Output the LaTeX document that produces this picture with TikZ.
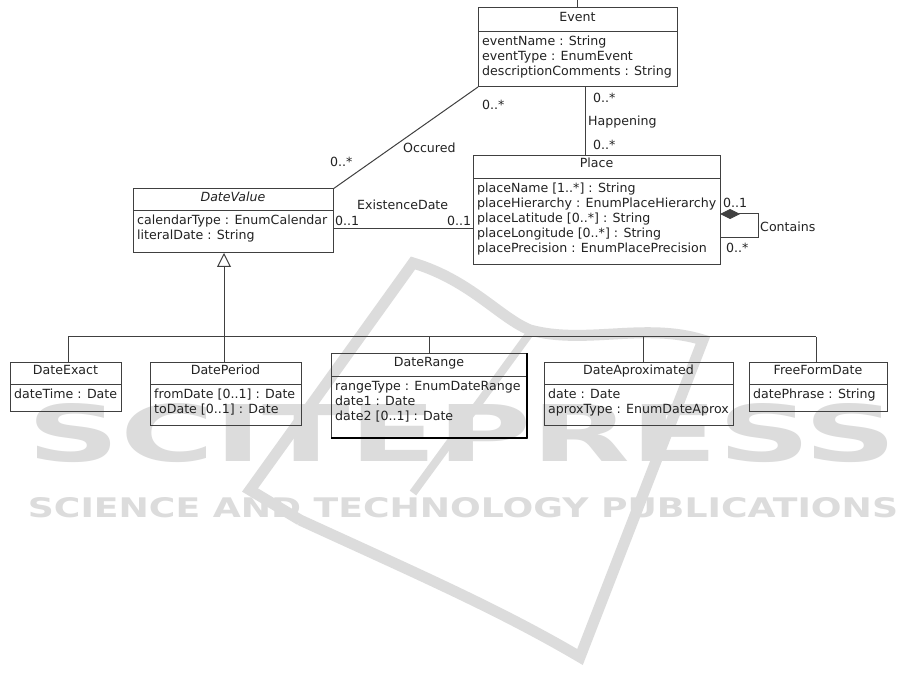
\documentclass[tikz,border=0pt]{standalone}
\usepackage{fontspec}
\setmainfont{DejaVu Sans}
\usepackage{graphicx}
\usetikzlibrary{arrows.meta}
\definecolor{ln}{HTML}{404040}
\definecolor{tx}{HTML}{222222}
\definecolor{wm}{HTML}{DCDCDC}
\tikzset{
  cls/.style={draw=ln, line width=1pt, anchor=north west, inner sep=0pt, outer sep=0pt},
  txt/.style={anchor=base west, inner sep=0pt, text=tx, font=\fontsize{12.6}{15}\selectfont},
  hdr/.style={anchor=base, inner sep=0pt, text=tx, font=\fontsize{12.6}{15}\selectfont},
  conn/.style={draw=ln, line width=1pt},
  wmtext/.style={anchor=base, inner sep=0pt, text=wm},
  wmk/.style={draw=wm, line cap=butt, line join=miter}
}
\newcommand\clsep[2]{\draw[conn] ([yshift=-#2pt]#1.north west) -- ([yshift=-#2pt]#1.north east);}
\begin{document}
\begin{tikzpicture}[x=1pt,y=-1pt]
\fill[white] (0,0) rectangle (915,692);
\useasboundingbox (0,0) rectangle (915,692);

% ---------- watermark ----------
\node[wmtext] (wmbig) at (462.5,461) {\resizebox{869pt}{58pt}{\bfseries SCITEPRESS}};
\node[wmtext] (wmsmall) at (463,517) {\resizebox{870pt}{20pt}{\bfseries SCIENCE AND TECHNOLOGY PUBLICATIONS}};
\draw[wmk, line width=11pt] (300,520) -- (250,490) -- (413,263)
   .. controls (470,280) and (500,318) .. (530,330)
   .. controls (585,345) and (645,322) .. (703,340) -- (580,657)
   .. controls (500,610) and (420,575) .. (300,520);
\draw[wmk, line width=8pt] (530,333) -- (413,493);

% ---------- Event ----------
\node[cls, minimum width=199pt, minimum height=79pt] (event) at (478,8) {};
\clsep{event}{24}
\node[hdr] (event-h) at (577.5,22) {Event};
\node[txt] (event-a1) at (482,46) {eventName : String};
\node[txt] (event-a2) at (482,61) {eventType : EnumEvent};
\node[txt] (event-a3) at (482,76) {descriptionComments : String};

% ---------- Place ----------
\node[cls, minimum width=247pt, minimum height=109pt] (place) at (473,156) {};
\clsep{place}{23}
\node[hdr] (place-h) at (596.5,168) {Place};
\node[txt] (place-a1) at (477,193) {placeName [1..*] : String};
\node[txt] (place-a2) at (477,208) {placeHierarchy : EnumPlaceHierarchy};
\node[txt] (place-a3) at (477,223) {placeLatitude [0..*] : String};
\node[txt] (place-a4) at (477,238) {placeLongitude [0..*] : String};
\node[txt] (place-a5) at (477,253) {placePrecision : EnumPlacePrecision};

% ---------- DateValue ----------
\node[cls, minimum width=200pt, minimum height=64pt] (datevalue) at (133,189) {};
\clsep{datevalue}{22}
\node[hdr, font=\fontsize{12.6}{15}\selectfont\itshape] (datevalue-h) at (233,202) {DateValue};
\node[txt] (datevalue-a1) at (137,225) {calendarType : EnumCalendar};
\node[txt] (datevalue-a2) at (137,240) {literalDate : String};

% ---------- subclasses ----------
\node[cls, minimum width=111pt, minimum height=49pt] (dateexact) at (10,362) {};
\clsep{dateexact}{22}
\node[hdr] (dateexact-h) at (65.5,374) {DateExact};
\node[txt] (dateexact-a1) at (14,398) {dateTime : Date};

\node[cls, minimum width=151pt, minimum height=63pt] (dateperiod) at (150,362) {};
\clsep{dateperiod}{22}
\node[hdr] (dateperiod-h) at (225.5,374) {DatePeriod};
\node[txt] (dateperiod-a1) at (154,398) {fromDate [0..1] : Date};
\node[txt] (dateperiod-a2) at (154,413) {toDate [0..1] : Date};

\node[cls, minimum width=196pt, minimum height=85pt] (daterange) at (331,353) {};
\clsep{daterange}{23}
\draw[black, line width=1.6pt] (daterange.north east) -- (daterange.south east);
\draw[black, line width=2.4pt] (daterange.south east) -- (daterange.south west);
\node[hdr] (daterange-h) at (429,366) {DateRange};
\node[txt] (daterange-a1) at (335,390) {rangeType : EnumDateRange};
\node[txt] (daterange-a2) at (335,405) {date1 : Date};
\node[txt] (daterange-a3) at (335,420) {date2 [0..1] : Date};

\node[cls, minimum width=189pt, minimum height=63pt] (dateaprox) at (544,362) {};
\clsep{dateaprox}{22}
\node[hdr] (dateaprox-h) at (638.5,374) {DateAproximated};
\node[txt] (dateaprox-a1) at (548,398) {date : Date};
\node[txt] (dateaprox-a2) at (548,413) {aproxType : EnumDateAprox};

\node[cls, minimum width=138pt, minimum height=49pt] (freeform) at (749,362) {};
\clsep{freeform}{22}
\node[hdr] (freeform-h) at (818,374) {FreeFormDate};
\node[txt] (freeform-a1) at (753,398) {datePhrase : String};

% ---------- connectors ----------
\coordinate (topin) at (577.5,0);
\draw[conn] (topin) -- (event.north);

\coordinate (epx) at (585,0);
\draw[conn] (event.south -| epx) -- (place.north -| epx);
\node[txt] (ep-m1) at (593,103) {0..*};
\node[txt] (ep-lbl) at (588,126) {Happening};
\node[txt] (ep-m2) at (593,150) {0..*};

\draw[conn] (event.south west) -- (datevalue.north east);
\node[txt] (oc-m1) at (482,110) {0..*};
\node[txt] (oc-lbl) at (403,153) {Occured};
\node[txt] (oc-m2) at (330,167) {0..*};

\coordinate (edy) at (0,229);
\draw[conn] (datevalue.east |- edy) -- (place.west |- edy);
\node[txt] (ed-lbl) at (357,210) {ExistenceDate};
\node[txt] (ed-m1) at (335,226) {0..1};
\node[txt] (ed-m2) at (447,226) {0..1};

\coordinate (lp1) at (0,214);
\coordinate (lp2) at (0,238);
\coordinate (lpx) at (758,0);
\draw[conn, {Diamond[length=20pt, width=10pt]}-] (place.east |- lp1) -- (lpx |- lp1) -- (lpx |- lp2) -- (place.east |- lp2);
\node[txt] (lp-m1) at (723,208) {0..1};
\node[txt] (lp-lbl) at (760,232) {Contains};
\node[txt] (lp-m2) at (726,253) {0..*};

% generalization
\coordinate (b1) at (68,337);
\coordinate (b2) at (224,337);
\coordinate (b3) at (429,337);
\coordinate (b4) at (643,337);
\coordinate (b5) at (816,337);
\draw[conn, -{Triangle[open, length=14pt, width=14pt]}] (b2) -- (b2 |- datevalue.south);
\draw[conn] (b1) -- (b5);
\draw[conn] (b1) -- (b1 |- dateexact.north);
\draw[conn] (b2) -- (b2 |- dateperiod.north);
\draw[conn] (b3) -- (b3 |- daterange.north);
\draw[conn] (b4) -- (b4 |- dateaprox.north);
\draw[conn] (b5) -- (b5 |- freeform.north);
\end{tikzpicture}
\end{document}
